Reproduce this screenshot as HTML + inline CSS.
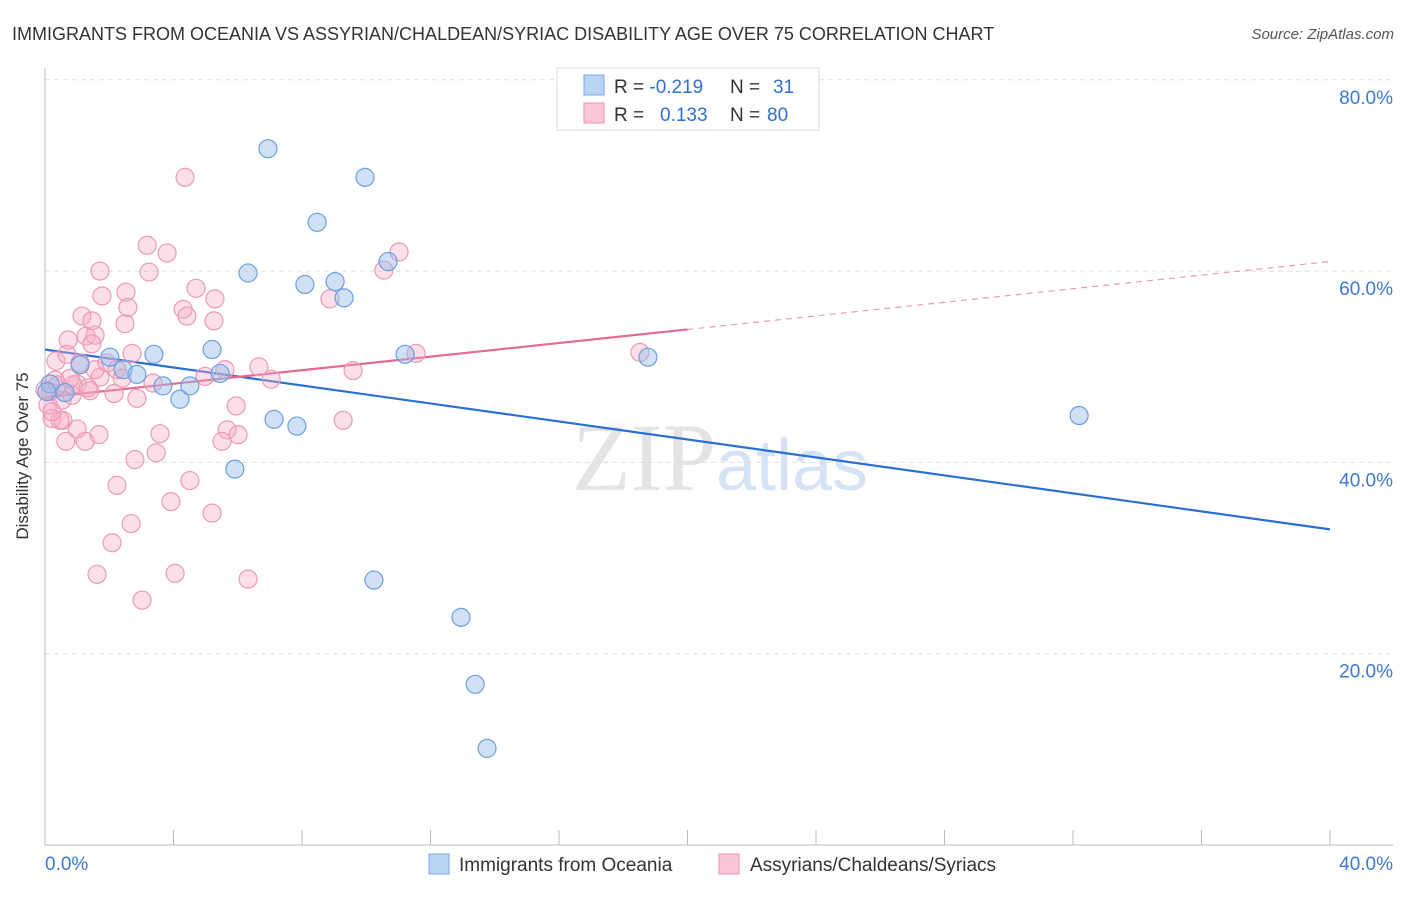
<!DOCTYPE html>
<html><head><meta charset="utf-8"><style>
body{margin:0;background:#fff;font-family:"Liberation Sans",sans-serif}
</style></head><body>
<svg width="1406" height="892" font-family="Liberation Sans, sans-serif">
<text x="12" y="40" font-size="18" fill="#333">IMMIGRANTS FROM OCEANIA VS ASSYRIAN/CHALDEAN/SYRIAC DISABILITY AGE OVER 75 CORRELATION CHART</text>
<text x="1394" y="39" font-size="15" fill="#555" font-style="italic" text-anchor="end">Source: ZipAtlas.com</text>
<text x="720" y="490" font-size="96" fill="#e4e4e4" text-anchor="middle" font-family="Liberation Serif, serif">ZIP<tspan fill="#d5e3f5" font-family="Liberation Sans, sans-serif" font-size="72">atlas</tspan></text>
<g id="grid"></g><g id="axes"></g><g id="lines"></g><g id="pts"></g>
<text x="28" y="456" font-size="17" fill="#333" transform="rotate(-90 28 456)" text-anchor="middle">Disability Age Over 75</text>
<g>
<rect x="557" y="68" width="262" height="62" fill="#fff" stroke="#ddd"/>
<rect x="584" y="75" width="20" height="20" fill="#b9d3f5" stroke="#7aa7e3"/>
<rect x="584" y="103" width="20" height="20" fill="#f9c6d5" stroke="#eb95b0"/>
<text x="614" y="93" font-size="19" fill="#333">R = <tspan fill="#2f6fd1">-0.219</tspan><tspan x="730">N = </tspan><tspan x="773" fill="#2f6fd1">31</tspan></text>
<text x="614" y="121" font-size="19" fill="#333">R = <tspan x="660" fill="#2f6fd1">0.133</tspan><tspan x="730">N = </tspan><tspan x="767" fill="#2f6fd1">80</tspan></text>
</g>
<g>
<rect x="429" y="854" width="20" height="20" fill="#b9d3f5" stroke="#7aa7e3"/>
<text x="459" y="871" font-size="19" fill="#333">Immigrants from Oceania</text>
<rect x="719" y="854" width="20" height="20" fill="#f9c6d5" stroke="#eb95b0"/>
<text x="750" y="871" font-size="19" fill="#333">Assyrians/Chaldeans/Syriacs</text>
</g>
</svg>
<script>
const yTicks=[20,40,60,80];
const yTickLabels=["20.0%","40.0%","60.0%","80.0%"];
const xEndLabels=["0.0%","40.0%"];
const blueX=[6.94,9.96,8.47,6.32,8.09,9.03,9.31,10.68,3.39,5.20,2.02,1.09,2.43,2.86,3.67,4.20,4.51,5.45,11.21,18.77,32.19,7.13,7.84,5.91,10.24,12.95,13.39,13.76,0.16,0.62,0.06];
const blueY=[72.8,69.8,65.1,59.8,58.6,58.9,57.2,61.0,51.3,51.8,51.0,50.2,49.7,49.2,48.0,46.6,48.0,49.3,51.3,51.0,44.9,44.5,43.8,39.3,27.7,23.8,16.8,10.1,48.2,47.3,47.4];
const pinkX=[3.18,3.80,1.71,3.24,1.77,2.52,2.58,2.49,4.70,5.29,4.30,4.42,5.26,1.15,1.46,1.28,1.56,1.46,0.72,0.34,0.68,2.71,1.09,1.93,2.24,2.40,1.00,0.84,1.40,2.15,2.86,3.36,4.98,5.60,6.66,7.04,5.95,0.22,0.56,1.00,1.68,0.65,1.25,3.58,3.46,2.80,5.67,5.51,6.01,4.51,2.24,3.92,5.20,2.68,2.09,1.62,4.05,6.32,3.02,4.36,10.55,11.02,8.87,9.28,9.59,11.55,18.52,0.16,0.09,0.31,0.47,0.53,1.71,0.87,1.34,0.0,0.22,0.40,0.78,1.56];
const pinkY=[62.7,61.9,60.0,59.9,57.4,57.8,56.2,54.5,58.2,57.1,56.0,55.3,54.8,55.3,54.8,53.2,53.3,52.4,52.8,50.6,51.3,51.4,50.4,50.4,49.7,48.8,48.2,47.0,47.5,47.2,46.7,48.3,49.0,49.7,50.0,48.7,45.9,44.6,44.4,43.5,42.9,42.2,42.2,43.0,41.0,40.3,43.4,42.2,42.9,38.1,37.6,35.9,34.7,33.6,31.6,28.3,28.4,27.8,25.6,69.8,60.1,62.0,57.1,44.4,49.6,51.4,51.5,47.4,46.0,48.6,44.4,46.5,48.9,48.1,47.8,47.6,45.3,48.1,48.8,49.7];
const blueTrend=[51.8,33.0];
const pinkTrend=[46.8,61.0];const pinkSolidEnd=20;
const NS="http://www.w3.org/2000/svg";
const X=v=>45+v*32.125, Y=v=>845-v*9.565;
function mk(p,t,a){const e=document.createElementNS(NS,t);for(const k in a)e.setAttribute(k,a[k]);document.getElementById(p).appendChild(e);return e;}
yTicks.forEach((t,i)=>{
 let g=mk('grid','line',{x1:45,x2:1393,y1:Y(t),y2:Y(t),stroke:'#ddd','stroke-dasharray':'5,4'});
 
 
 let l=mk('grid','text',{x:1393,y:Y(t)+24,'font-size':19,fill:'#3b78d8','text-anchor':'end'});
 l.textContent=yTickLabels[i];
 
 
});
let ax=mk('axes','line',{x1:45,x2:45,y1:68,y2:845,stroke:'#bbb'});


let bx=mk('axes','line',{x1:45,x2:1393,y1:845,y2:845,stroke:'#bbb'});


for(let i=0;i<=10;i++){let t=mk('axes','line',{x1:X(i*4),x2:X(i*4),y1:830,y2:845,stroke:'#bbb'});
 
 }
[[0,'start',X(0)],[1,'end',1393]].forEach(([i,a,x])=>{let t=mk('axes','text',{x:x,y:870,'font-size':19,fill:'#3b78d8','text-anchor':a});t.textContent=xEndLabels[i];
 
 });
function dot(x,y,fill,stroke,name){let c=mk('pts','circle',{cx:X(x),cy:Y(y),r:9,fill:fill,stroke:stroke,'stroke-width':1.2});
 
 }
pinkX.forEach((x,i)=>dot(x,pinkY[i],'rgba(246,170,196,0.38)','#ec9ab4','pink-point'));
blueX.forEach((x,i)=>dot(x,blueY[i],'rgba(150,188,236,0.45)','#6d9fe0','blue-point'));
let b=mk('lines','line',{x1:X(0),y1:Y(blueTrend[0]),x2:X(40),y2:Y(blueTrend[1]),stroke:'#2a6fd6','stroke-width':2.2});


const pAt=x=>pinkTrend[0]+(pinkTrend[1]-pinkTrend[0])*x/40;
let p=mk('lines','line',{x1:X(0),y1:Y(pAt(0)),x2:X(pinkSolidEnd),y2:Y(pAt(pinkSolidEnd)),stroke:'#e46a94','stroke-width':2.2});


let pd=mk('lines','line',{x1:X(pinkSolidEnd),y1:Y(pAt(pinkSolidEnd)),x2:X(40),y2:Y(pAt(40)),stroke:'#eb9ab5','stroke-width':1.2,'stroke-dasharray':'6,5'});


</script>
</body></html>
